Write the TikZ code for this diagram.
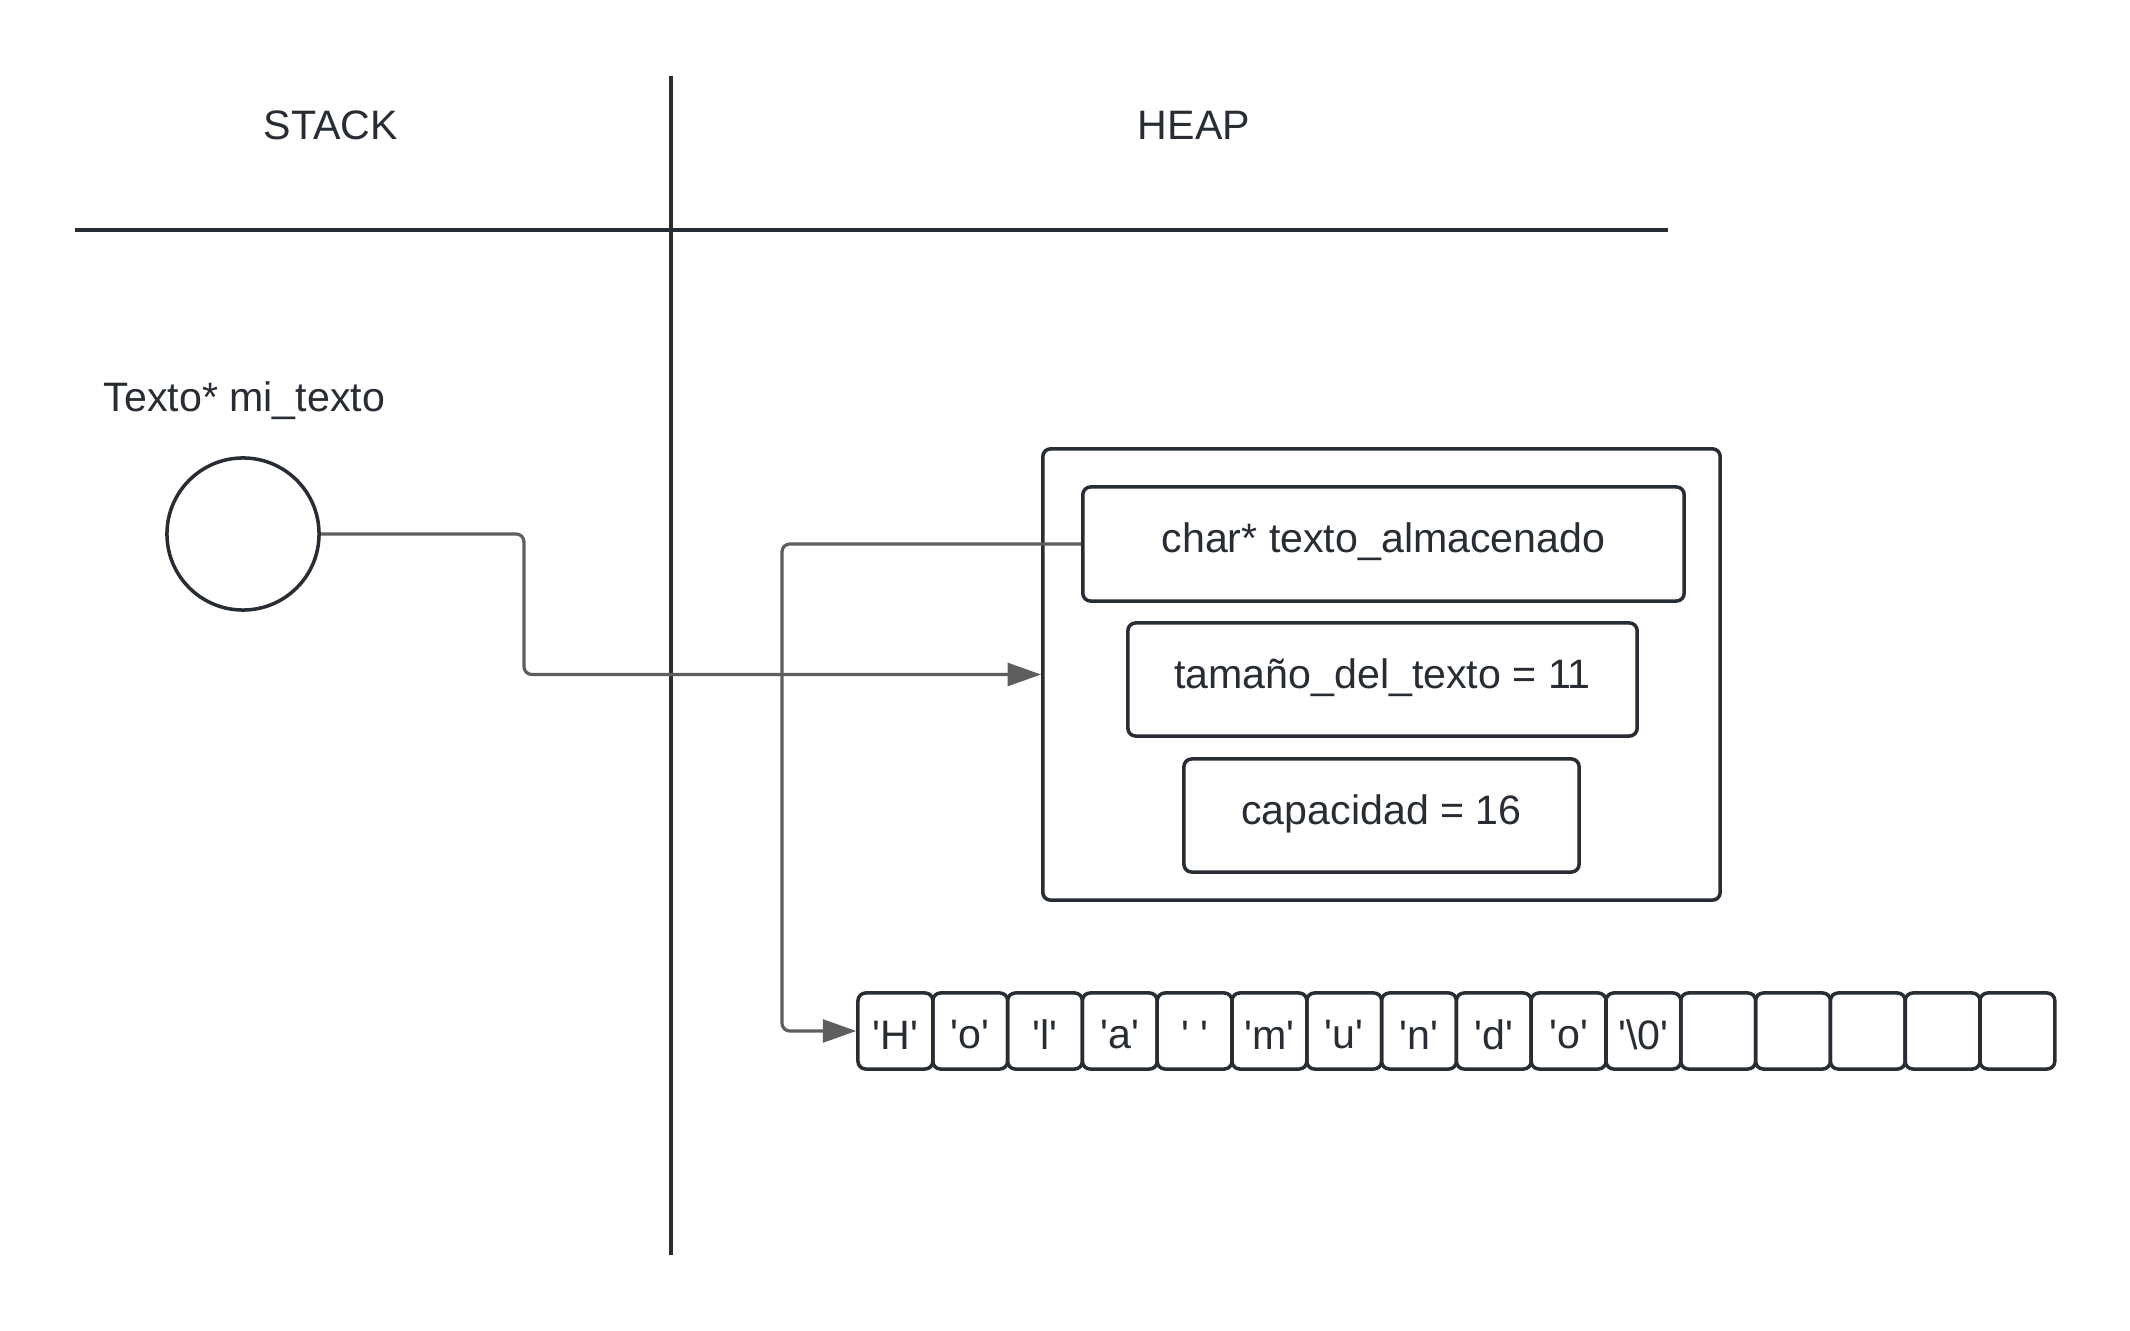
\documentclass[tikz,border=0pt]{standalone}
\usepackage{fontspec}
\setmainfont{Liberation Sans}[Ligatures=TeXOff]
\usetikzlibrary{arrows.meta}
\definecolor{ink}{RGB}{40,44,51}
\definecolor{wire}{RGB}{94,94,94}
\tikzset{
  lbl/.style={text=ink, font=\fontsize{11.7}{14}\selectfont, inner sep=0pt},
  boxnode/.style={draw=ink, line width=1pt, rounded corners=2.2pt, inner sep=0pt,
    text=ink, font=\fontsize{11.7}{14}\selectfont},
  cellnode/.style={boxnode, minimum width=0.748cm, minimum height=0.76cm},
  celltext/.style={lbl},
  divider/.style={draw=ink, line width=0.9pt},
  conn/.style={draw=wire, line width=0.9pt, rounded corners=2.2pt,
    -{Triangle[length=9.5pt,width=6.5pt]}},
}
\begin{document}
\begin{tikzpicture}[x=0.01cm, y=-0.01cm]
\useasboundingbox[fill=white] (0,0) rectangle (2130,1331);
% dividers
\coordinate (vtop) at (671,76);
\coordinate (vbot) at (671,1255);
\coordinate (hl) at (75,230);
\coordinate (hr) at (1668,230);
\draw[divider] (vtop) -- (vbot);
\draw[divider] (hl) -- (hr);
\node[lbl] (stack) at (331,125) {STACK};
\node[lbl] (heap) at (1194,125) {HEAP};
% stack variable
\node[lbl, anchor=west] (var) at (103,401) {Texto* mi\_texto};
\node[draw=ink, line width=1pt, circle, minimum size=1.52cm, inner sep=0pt] (circ) at (243,534) {};
% heap struct
\node[boxnode, minimum width=6.77cm, minimum height=4.51cm] (outer) at (1381.5,674.5) {};
\node[boxnode, minimum width=6.01cm, minimum height=1.14cm] (b1) at (1383.5,544) {};
\node[lbl] (t1) at (1383.5,542) {char* texto\_almacenado};
\node[boxnode, minimum width=5.09cm, minimum height=1.13cm] (b2) at (1382.5,679.5) {};
\node[lbl] (t2) at (1382.5,678) {tamaño\_del\_texto = 11};
\node[boxnode, minimum width=3.95cm, minimum height=1.13cm] (b3) at (1381.5,815.5) {};
\node[lbl] (t3) at (1381.5,814) {capacidad = 16};
% character array
\foreach \t [count=\i] in {'H','o','l','a',' ','m','u','n','d','o','\textbackslash 0',{},{},{},{},{}} {
  \node[cellnode] (c\i) at ({858+74.8*(\i-0.5)},1031) {};
  \node[celltext] (ct\i) at ({858+74.8*(\i-0.5)},1035) {\t};
}
% connectors
\coordinate (bend1) at (524,534);
\draw[conn] (circ.east) -- (bend1) |- (outer.west);
\coordinate (bend2) at (782,544);
\draw[conn] (b1.west) -- (bend2) |- (c1.west);
\end{tikzpicture}
\end{document}
